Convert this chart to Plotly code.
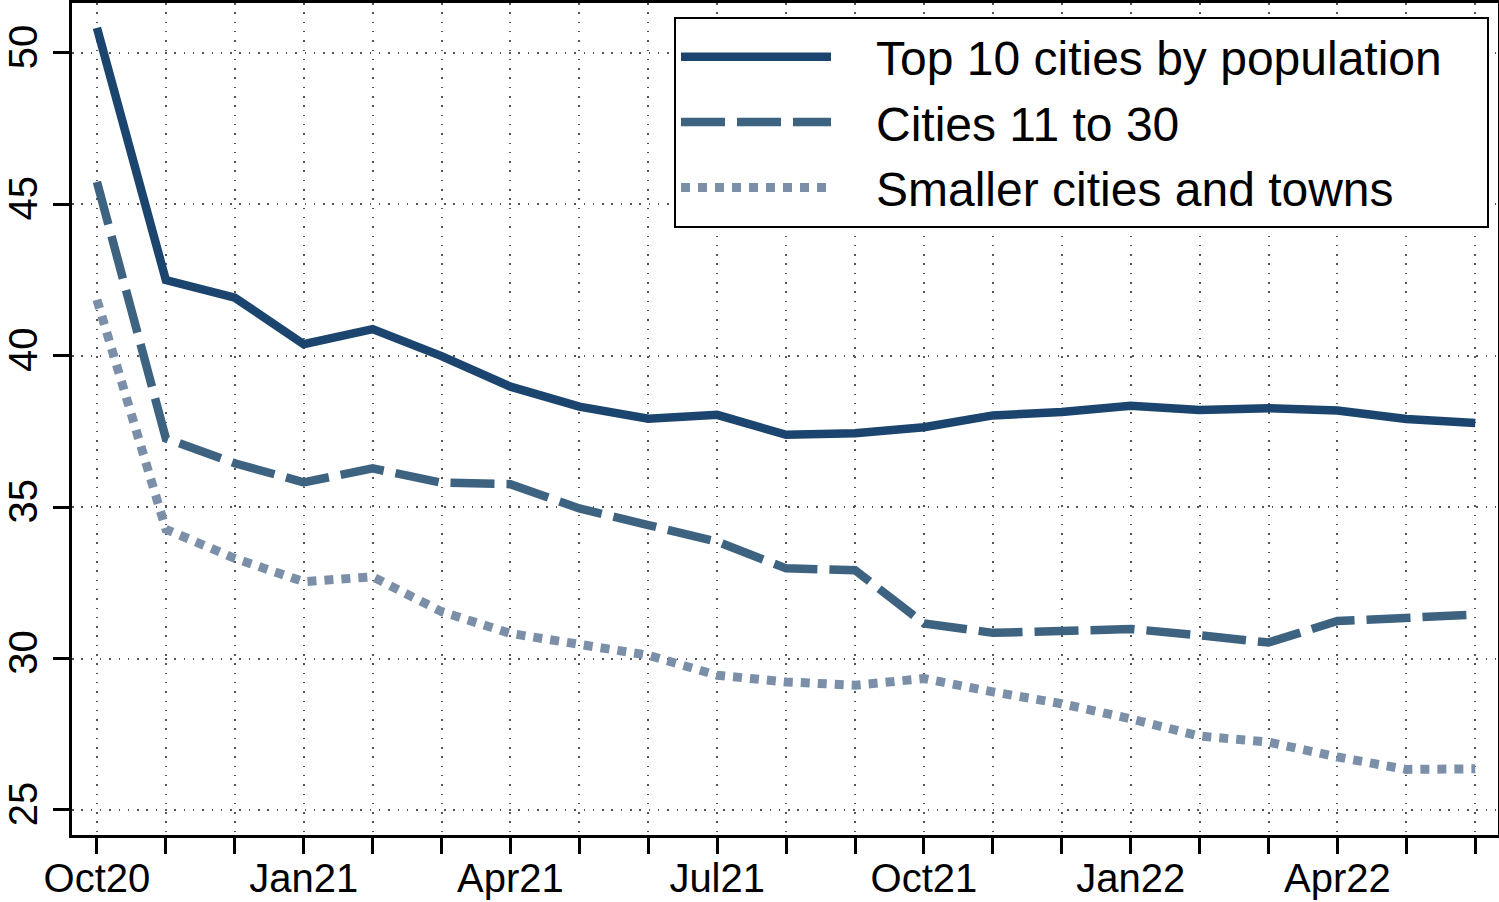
import plotly.graph_objects as go

months = ["Oct20", "Nov20", "Dec20", "Jan21", "Feb21", "Mar21", "Apr21", "May21", "Jun21",
          "Jul21", "Aug21", "Sep21", "Oct21", "Nov21", "Dec21", "Jan22", "Feb22", "Mar22",
          "Apr22", "May22", "Jun22"]
tick_labels = ["Oct20", "", "", "Jan21", "", "", "Apr21", "", "", "Jul21", "", "", "Oct21",
               "", "", "Jan22", "", "", "Apr22", "", ""]

top10 = [50.83, 42.50, 41.92, 40.38, 40.88, 39.99, 38.98, 38.32, 37.92, 38.05, 37.39, 37.44,
         37.64, 38.03, 38.14, 38.35, 38.21, 38.27, 38.19, 37.91, 37.78]
cities_11_30 = [45.74, 37.27, 36.45, 35.82, 36.28, 35.81, 35.76, 34.96, 34.41, 33.86, 32.98,
                32.92, 31.16, 30.85, 30.91, 30.98, 30.77, 30.53, 31.24, 31.35, 31.45]
smaller = [41.85, 34.27, 33.31, 32.54, 32.70, 31.55, 30.83, 30.44, 30.11, 29.45, 29.23, 29.12,
           29.34, 28.90, 28.51, 28.01, 27.44, 27.24, 26.75, 26.34, 26.36]

series = [
    ("Top 10 cities by population", top10, "#1b456e", "solid", 8.5),
    ("Cities 11 to 30", cities_11_30, "#3d6380", "44px,12px", 8.5),
    ("Smaller cities and towns", smaller, "#7b90a8", "9px,8px", 9),
]

FONT = "Liberation Sans, Arial, Helvetica, sans-serif"
PAD = "\u00a0\u00a0\u00a0"

fig = go.Figure()
for name, vals, color, dash, width in series:
    fig.add_trace(go.Scatter(
        x=months, y=vals, name=PAD + name + PAD, mode="lines",
        line=dict(color=color, width=width, dash=dash),
    ))

fig.update_layout(
    width=1499, height=902,
    margin=dict(l=72, r=1, t=3, b=67, autoexpand=False),
    paper_bgcolor="white", plot_bgcolor="white",
    font=dict(family=FONT, color="black"),
    showlegend=True,
    legend=dict(
        x=(674 - 72) / 1426, y=1 - (17 - 3) / 832, xanchor="left", yanchor="top",
        bgcolor="white", bordercolor="black", borderwidth=2,
        font=dict(size=48, family=FONT, color="black"),
        itemwidth=150, tracegroupgap=0,
    ),
)

fig.update_xaxes(
    type="category",
    range=[-0.362, 20.33],
    tickvals=months, ticktext=tick_labels,
    ticks="outside", ticklen=16, tickwidth=2.5, tickcolor="black",
    tickfont=dict(size=40, family=FONT, color="black"),
    ticklabelstandoff=-10,
    showline=True, linewidth=3, linecolor="black", mirror=True,
    showgrid=True, gridcolor="#555555", gridwidth=1.5, griddash="1.5px,7.8px",
    zeroline=False, automargin=False,
)
fig.update_yaxes(
    range=[24.174, 51.65],
    tickvals=[25, 30, 35, 40, 45, 50],
    ticks="outside", ticklen=16, tickwidth=2.5, tickcolor="black",
    tickangle=-90,
    tickfont=dict(size=40, family=FONT, color="black"),
    showline=True, linewidth=3, linecolor="black", mirror=True,
    showgrid=True, gridcolor="#555555", gridwidth=1.5, griddash="1.5px,7.8px",
    zeroline=False, automargin=False,
)

fig.write_html(
    "out.html",
    config={"displayModeBar": False},
    post_script="document.body.style.margin='0';document.body.style.padding='0';"
                "document.body.style.overflow='hidden';",
)
